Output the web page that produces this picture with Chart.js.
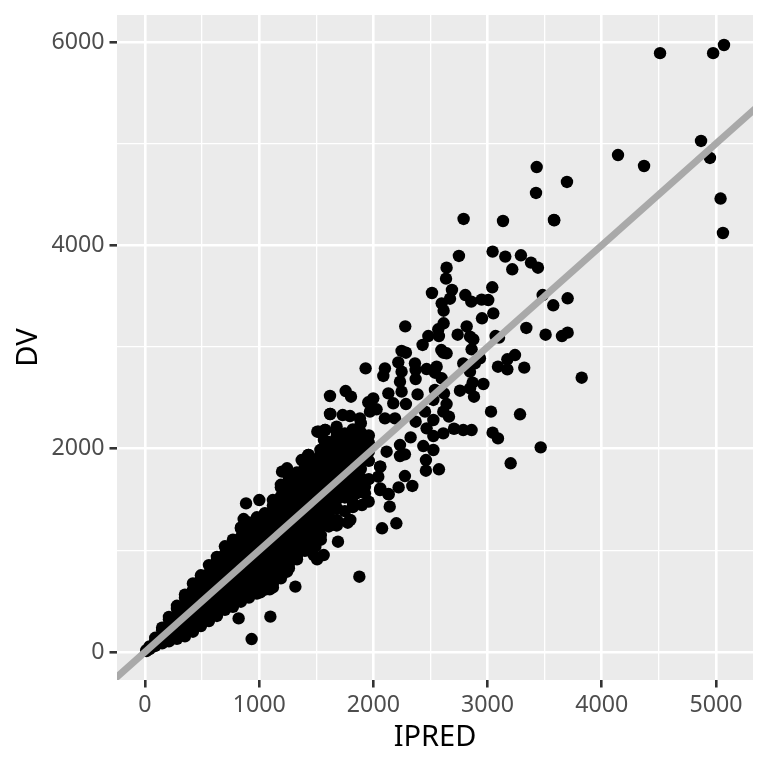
<!DOCTYPE html>
<html>
<head>
<meta charset="utf-8">
<style>
  html, body { margin: 0; padding: 0; background: #fff; }
  canvas { display: block; }
</style>
<script src="https://cdn.jsdelivr.net/npm/chart.js@4"></script>
</head>
<body>
<canvas id="chart" width="768" height="768"></canvas>
<script>
const bandIpred = [12, 40, 90, 150, 210, 280, 350, 420, 490, 560, 630, 700, 770, 840, 910, 980, 1050, 1120, 1190, 1260, 1330, 1400, 1470, 1540, 1610, 1680, 1750, 1820, 1890, 1960];
const bandDv = [
  [10, 18],
  [28, 55],
  [60, 110, 140],
  [85, 130, 215, 240],
  [105, 150, 235, 320, 345],
  [130, 170, 255, 340, 425, 455],
  [155, 195, 280, 365, 450, 535, 565],
  [200, 240, 325, 410, 495, 580, 610, 675],
  [255, 295, 380, 465, 550, 635, 720, 755],
  [305, 345, 430, 515, 600, 685, 770, 855],
  [355, 395, 480, 565, 650, 735, 820, 905, 935],
  [415, 455, 540, 625, 710, 795, 880, 965, 1040],
  [445, 485, 570, 655, 740, 825, 910, 995, 1080, 1105],
  [495, 535, 620, 705, 790, 875, 960, 1045, 1130, 1215, 1225],
  [535, 575, 660, 745, 830, 915, 1000, 1085, 1170, 1255, 1275],
  [575, 615, 700, 785, 870, 955, 1040, 1125, 1210, 1295, 1325],
  [615, 655, 740, 825, 910, 995, 1080, 1165, 1250, 1335, 1365],
  [635, 675, 760, 845, 930, 1015, 1100, 1185, 1270, 1355, 1440, 1495],
  [725, 765, 850, 935, 1020, 1105, 1190, 1275, 1360, 1445, 1530, 1620, 1645],
  [825, 865, 950, 1035, 1120, 1205, 1290, 1375, 1460, 1545, 1630, 1715, 1735],
  [945, 985, 1070, 1155, 1240, 1325, 1410, 1495, 1580, 1665, 1750, 1765],
  [995, 1035, 1120, 1205, 1290, 1375, 1460, 1545, 1630, 1715, 1800, 1825],
  [1065, 1110, 1195, 1280, 1365, 1450, 1535, 1620, 1705, 1790, 1875, 1895],
  [1105, 1150, 1235, 1320, 1405, 1490, 1575, 1660, 1745, 1830, 1915, 1945],
  [1235, 1275, 1360, 1445, 1530, 1615, 1700, 1785, 1870, 1955, 2040, 2065],
  [1245, 1300, 1500, 1590, 1680, 1770, 1860, 1950, 2040, 2130, 2165],
  [1385, 1520, 1610, 1700, 1790, 1880, 1970, 2060, 2150],
  [1425, 1470, 1560, 1650, 1740, 1830, 1920, 2010, 2100, 2190],
  [1575, 1620, 1710, 1800, 1890, 1980, 2070, 2160, 2250],
  [1700, 1880, 1970, 2060, 2130]
];

// loose points, same position in both arrays
const ipred = [
  4510, 4975, 5070, 4869, 4947, 5040, 5061, 4142, 4370, 3581, 3430, 3424, 3695,
  2790, 3135, 3584, 2749, 3044, 3155, 3292, 3216, 3380, 3441, 2641, 2636, 2513,
  2688, 2671, 2598, 2615, 2805, 2857, 2948, 3006, 3041, 3482, 3701, 3575, 3050,
  2951, 2615, 2568, 2279, 2817, 2481, 2574, 2738, 2846, 2875, 2431, 3070, 3100,
  3339, 3508, 3651, 3701, 2247, 2285, 2595, 2612, 2641, 2860, 3240, 3173, 3091,
  3173, 3321, 3824, 2218, 2247, 1932, 2101, 2087, 2364, 2370, 2370, 2466, 2554,
  2539, 2598, 2787, 2933, 2889, 2846, 2233, 2247, 2131, 2174, 1620, 1757, 1804,
  2387, 2539, 2618, 2525, 2758, 2869, 2963, 2881, 2846, 1955, 1999, 2285, 2028,
  1970, 1620, 1731, 1795, 2641, 2612, 2662, 2452, 3030, 3284, 2101, 2189, 1882,
  2525, 2370, 2466, 2706, 2787, 2860, 3044, 3091, 2612, 2525, 1509, 1576, 1567,
  1678, 2326, 2233, 2437, 2525, 3465, 2116, 1547, 2233, 2276, 2460, 3202, 2460,
  2574, 2276, 2221, 2341, 2131, 2058, 2058, 2043, 1926, 1926, 1853, 1707, 1430,
  1372, 934, 1098, 820, 1317, 1877, 1092, 1244, 1010, 1331, 1477, 1507, 1565,
  1492, 1690, 1798, 1775, 1900, 1959, 2076, 2143, 2201, 1670, 1682, 885, 1001,
  864, 1244, 1200, 1623, 1521, 1579, 1536, 1433, 2061, 2134, 2061
];
const dv = [
  5890, 5890, 5970, 5026, 4859, 4460, 4121, 4888, 4780, 4249, 4770, 4515, 4623,
  4259, 4239, 4246, 3895, 3938, 3889, 3902, 3764, 3830, 3780, 3780, 3672, 3531,
  3561, 3475, 3429, 3357, 3511, 3446, 3466, 3462, 3587, 3511, 3479, 3410, 3331,
  3282, 3233, 3174, 3203, 3203, 3108, 3108, 3121, 3102, 3075, 3020, 3108, 3092,
  3187, 3121, 3108, 3141, 2961, 2944, 2970, 2944, 2938, 2977, 2921, 2879, 2806,
  2780, 2797, 2698, 2849, 2757, 2790, 2790, 2715, 2839, 2774, 2685, 2783, 2806,
  2747, 2692, 2839, 2888, 2839, 2757, 2659, 2561, 2544, 2446, 2518, 2567, 2511,
  2534, 2577, 2544, 2479, 2570, 2649, 2636, 2511, 2593, 2456, 2495, 2439, 2387,
  2364, 2341, 2331, 2321, 2439, 2364, 2315, 2364, 2364, 2338, 2298, 2298, 2298,
  2282, 2265, 2200, 2196, 2183, 2183, 2157, 2101, 2150, 2124, 2167, 2183, 2085,
  2216, 2111, 2036, 2026, 1987, 2013, 1970, 1993, 1928, 1944, 1888, 1856, 1783,
  1797, 1731, 1619, 1633, 1554, 1593, 1823, 1724, 1626, 1560, 1560, 1544, 1938,
  1888, 128, 348, 331, 643, 741, 616, 790, 587, 912, 954, 912, 954,
  1036, 1085, 1299, 1272, 1446, 1479, 1217, 1430, 1266, 1249, 1413, 1462, 1495,
  1308, 1807, 1774, 2341, 2167, 2184, 1987, 1938, 1610, 1551, 1823
];

const refLine = [-400, 5600];

const xTicks = [0, 500, 1000, 1500, 2000, 2500, 3000, 3500, 4000, 4500, 5000];
const xLabelled = [0, 1000, 2000, 3000, 4000, 5000];
const yTicks = [0, 1000, 2000, 3000, 4000, 5000, 6000];
const yLabelled = [0, 2000, 4000, 6000];

const scatterPoints = ipred.map((x, i) => ({ x: x, y: dv[i] }));
bandIpred.forEach((x, i) => bandDv[i].forEach(y => scatterPoints.push({ x: x, y: y })));

const panelBg = {
  id: 'panelBg',
  beforeDraw(chart) {
    const a = chart.chartArea;
    chart.ctx.fillStyle = '#ebebeb';
    chart.ctx.fillRect(a.left, a.top, a.width, a.height);
  }
};

function axis(tickValues, labelled, min, max, title, tickPad, titlePad, fixFit) {
  const isMajor = v => labelled.includes(v);
  return {
    type: 'linear',
    min: min,
    max: max,
    afterFit: fixFit,
    afterBuildTicks: s => { s.ticks = tickValues.map(v => ({ value: v })); },
    border: { display: false },
    grid: {
      color: '#ffffff',
      lineWidth: c => (c.tick && isMajor(c.tick.value) ? 2.6 : 1.3),
      tickLength: 7.5,
      tickColor: c => (c.tick && isMajor(c.tick.value) ? '#333333' : 'rgba(0,0,0,0)'),
      tickWidth: 2.6
    },
    ticks: {
      autoSkip: false,
      maxRotation: 0,
      padding: tickPad,
      color: '#4d4d4d',
      font: { family: '"Noto Sans"', size: 23.2 },
      callback: v => (isMajor(v) ? String(v) : '')
    },
    title: {
      display: true,
      text: title,
      color: '#000000',
      font: { family: '"Noto Sans"', size: 29 },
      padding: titlePad
    }
  };
}

// the panel has a fixed place on the page, so labels must not push it around
function fixBox(s, w, h) {
  if (w) s.width = w;
  if (h) s.height = h;
  s.paddingLeft = s.paddingRight = s.paddingTop = s.paddingBottom = 0;
}

new Chart(document.getElementById('chart').getContext('2d'), {
  type: 'scatter',
  data: {
    datasets: [
      {
        type: 'line',
        data: refLine.map(v => ({ x: v, y: v })),
        borderColor: '#a9a9a9',
        borderWidth: 7,
        pointRadius: 0,
        fill: false
      },
      {
        data: scatterPoints,
        backgroundColor: '#000000',
        borderWidth: 0,
        pointRadius: 6.2
      }
    ]
  },
  options: {
    responsive: false,
    animation: false,
    devicePixelRatio: 1,
    layout: { autoPadding: false, padding: { top: 15, right: 15, left: 0, bottom: 0 } },
    plugins: { legend: { display: false }, tooltip: { enabled: false } },
    scales: {
      x: axis(xTicks, xLabelled, -245, 5324, 'IPRED', 4, { top: 3, bottom: 13 }, s => fixBox(s, 0, 88)),
      y: axis(yTicks, yLabelled, -275, 6265, 'DV', 5, { top: 11, bottom: 3 }, s => fixBox(s, 117, 0))
    }
  },
  plugins: [panelBg]
});
</script>
</body>
</html>
